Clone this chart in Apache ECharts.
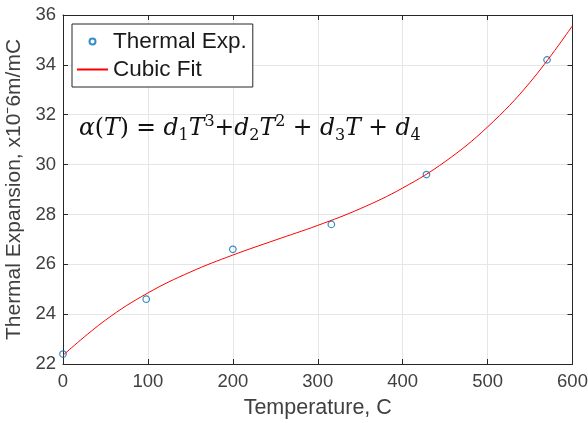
<!DOCTYPE html>
<html>
<head>
<meta charset="utf-8">
<script src="https://cdn.jsdelivr.net/npm/echarts@6/dist/echarts.min.js"></script>
<style>
  html, body { margin: 0; padding: 0; background: #ffffff; }
  #chart { width: 588px; height: 423px; }
</style>
</head>
<body>
<div id="chart"></div>
<script>
// Measured thermal expansion
const tempC = [0, 98, 200, 316, 428, 570];
const alphaMeasured = [22.4, 24.6, 26.6, 27.6, 29.6, 34.2];

// Cubic fit curve, sampled every 50 C
const fitTemp = [0, 50, 100, 150, 200, 250, 300, 350, 400, 450, 500, 550, 600];
const fitAlpha = [22.35, 23.76, 24.85, 25.69, 26.37, 26.97, 27.56, 28.23, 29.06, 30.12, 31.51, 33.30, 35.57];

// Axis ranges
const xRange = { min: 0, max: 600, step: 100 };
const yRange = { min: 22, max: 36, step: 2 };

const seriesNames = ['Thermal Exp.', 'Cubic Fit'];

const sans = 'Liberation Sans, Arial, Helvetica, sans-serif';
const serif = 'DejaVu Serif, Liberation Serif, serif';
const axisColor = '#262626';
const labelColor = '#404040';
const gridColor = '#e6e6e6';

const zip = (a, b) => a.map((v, i) => [v, b[i]]);

function frameAxis(base, extra) {
  return Object.assign({
    type: 'value',
    min: base.min,
    max: base.max,
    interval: base.step,
    axisLine: { show: true, onZero: false, lineStyle: { color: axisColor, width: 1 } },
    axisTick: { show: true, inside: true, length: 5, lineStyle: { color: axisColor } },
    axisLabel: { show: false },
    splitLine: { show: false }
  }, extra);
}

const chart = echarts.init(document.getElementById('chart'), null, { renderer: 'canvas' });

chart.setOption({
  animation: false,
  backgroundColor: '#ffffff',
  grid: { left: 63, top: 15, right: 15.5, bottom: 59, containLabel: false, outerBoundsMode: 'none' },
  xAxis: [
    frameAxis(xRange, {
      position: 'bottom',
      axisLabel: { show: true, fontSize: 18.5, color: labelColor, fontFamily: sans, margin: 8 },
      splitLine: { show: true, lineStyle: { color: gridColor, width: 1 } },
      name: 'Temperature, C',
      nameLocation: 'middle',
      nameGap: 33,
      nameTextStyle: { fontSize: 21.5, color: labelColor, fontFamily: sans }
    }),
    frameAxis(xRange, { position: 'top' })
  ],
  yAxis: [
    frameAxis(yRange, {
      position: 'left',
      axisLabel: { show: true, fontSize: 18.5, color: labelColor, fontFamily: sans, margin: 7 },
      splitLine: { show: true, lineStyle: { color: gridColor, width: 1 } },
      name: 'Thermal Expansion, x10\u207B6m/mC',
      nameLocation: 'middle',
      nameGap: 32,
      nameTextStyle: { fontSize: 21, color: labelColor, fontFamily: sans }
    }),
    frameAxis(yRange, { position: 'right' })
  ],
  legend: {
    orient: 'vertical',
    left: 72,
    top: 24,
    data: [
      { name: seriesNames[0] },
      { name: seriesNames[1], itemStyle: { opacity: 0 } }
    ],
    backgroundColor: '#ffffff',
    borderColor: axisColor,
    borderWidth: 1,
    borderRadius: 0,
    padding: [6, 6, 6, 4],
    itemGap: 5,
    itemWidth: 31,
    itemHeight: 6,
    textStyle: { fontSize: 22.5, color: '#1a1a1a', fontFamily: sans, lineHeight: 22 }
  },
  series: [
    {
      name: seriesNames[0],
      type: 'scatter',
      data: zip(tempC, alphaMeasured),
      symbol: 'circle',
      symbolSize: 6.5,
      itemStyle: { color: 'rgba(255,255,255,0)', borderColor: '#0072BD', borderWidth: 1.2 },
      z: 3
    },
    {
      name: seriesNames[1],
      type: 'line',
      data: zip(fitTemp, fitAlpha),
      smooth: 0.4,
      symbol: 'none',
      lineStyle: { color: '#ff0000', width: 1 },
      z: 4
    }
  ],
  graphic: [
    {
      type: 'text',
      left: 79,
      top: 114,
      z: 10,
      style: {
        text: '{v|\u03B1}{n|(}{v|T}{n|) = }{v|d}{sub|1}{v|T}{sup|3}{n|+}{v|d}{sub|2}{v|T}{sup|2}{n| + }{v|d}{sub|3}{v|T}{n| + }{v|d}{sub|4}',
        rich: {
          v: { fontFamily: serif, fontStyle: 'italic', fontSize: 23.5, lineHeight: 30, fill: '#111111' },
          n: { fontFamily: serif, fontSize: 23.5, lineHeight: 30, fill: '#111111' },
          sub: { fontFamily: serif, fontSize: 16, lineHeight: 18, verticalAlign: 'bottom', fill: '#111111' },
          sup: { fontFamily: serif, fontSize: 16, lineHeight: 19, verticalAlign: 'top', fill: '#111111' }
        }
      }
    }
  ]
});
</script>
</body>
</html>
